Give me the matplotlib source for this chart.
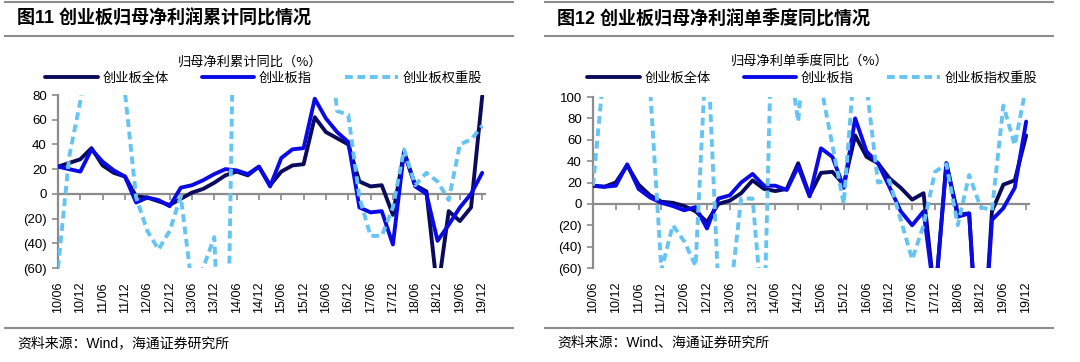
import numpy as np
import matplotlib
matplotlib.use("Agg")
import matplotlib.pyplot as plt
from matplotlib.lines import Line2D
from matplotlib.ticker import FuncFormatter

plt.rcParams['font.family'] = ['Liberation Sans', 'Noto Sans CJK SC', 'DejaVu Sans']

# quarters 10/06 .. 19/12, labels every half year
quarters = list(range(39))
tick_pos = list(range(0, 39, 2))
tick_labels = [f"{y:02d}/{m}" for y in range(10, 20) for m in ("06", "12")]

# 图11 累计同比 (%)
cum_total = [22, 25, 28, 37, 23, 17, 14, -2, -3, -6, -9, -4, 1, 4, 9, 15, 18, 15, 22, 7,
             18, 23, 24, 62, 50, 45, 40, 10, 6, 7, -17, 34, 7, 2, -80, -14, -22, -11, 79]
cum_index = [22, 20, 18, 36, 26, 19, 14, -7, -3, -5, -10, 5, 7, 11, 16, 20, 19, 16, 22, 6,
             29, 36, 37, 77, 61, 50, 42, -11, -15, -14, -41, 34, 6, 0, -38, -25, -11, 0, 17]
cum_weight = [-60, 30, 75, 150, 160, 150, 82, -3, -30, -45, -30, -2, -75, -60, -35, -250, 300,
              250, 200, 180, 200, 220, 180, 200, 150, 67, 64, -3, -34, -34, -11, 36, 7, 17,
              10, -5, 40, 44, 55]

# 图12 单季度同比 (%)
q_total = [17, 16, 20, 36, 18, 8, 2, 1, -2, -7, -17, 0, 3, 10, 22, 14, 12, 14, 38, 8,
           29, 30, 18, 64, 44, 38, 24, 15, 4, 10, -90, 38, -10, -9, -180, -7, 18, 22, 64]
q_index = [17, 16, 17, 37, 14, 6, 1, -2, -6, -3, -23, 5, 8, 20, 28, 17, 17, 13, 35, 7,
           52, 44, 15, 80, 49, 38, 16, -7, -20, -7, -90, 38, -12, -9, -180, -15, -4, 15, 77]
q_weight = [17, 130, 200, 180, 150, 110, -62, -20, -35, -58, 160, -80, -90, 5, 5, -120, 300,
            150, 77, 200, 110, 55, 0, 140, 110, 20, 22, -15, -52, -20, 30, 37, -20, 27, -3,
            -6, 92, 55, 110]

navy = '#0B0B5E'
blue = '#0A0AE6'
light = '#66C4F2'
gray = '#8C8C8C'

W, H = 1080, 362
fig = plt.figure(figsize=(W / 100, H / 100), dpi=100)


def fx(px):
    return px / W


def fy(py):
    return 1 - py / H


def paren(v, pos):
    return f"({abs(v):.0f})" if v < 0 else f"{v:.0f}"


def panel(x0, x1, y_top, ylim, ystep, series, legend_names, title, source, ox):
    ax = fig.add_axes([fx(x0), fy(268), fx(x1 - x0), (268 - y_top) / H])
    for vals, c, ls, nm in zip(series, [navy, blue, light], ['-', '-', '--'], legend_names):
        kw = dict(dashes=(2.0, 1.2)) if ls == '--' else {}
        ax.plot(quarters, vals, color=c, lw=2.8, ls=ls, label=nm, zorder=3,
                solid_capstyle='round', solid_joinstyle='round', **kw)
    ax.set_xlim(0, 38.25)
    ax.set_ylim(*ylim)
    ax.set_yticks(np.arange(ylim[0], ylim[1] + 1, ystep))
    ax.yaxis.set_major_formatter(FuncFormatter(paren))
    for s in ['top', 'right']:
        ax.spines[s].set_visible(False)
    ax.spines['left'].set_color(gray)
    ax.spines['left'].set_linewidth(1.6)
    ax.spines['bottom'].set_position(('data', 0))
    ax.spines['bottom'].set_color(gray)
    ax.spines['bottom'].set_linewidth(1.6)
    ax.set_xticks(tick_pos)
    ax.tick_params(axis='x', length=4, width=1.2, color=gray, labelbottom=False)
    ax.tick_params(axis='y', length=4, width=1.2, color=gray, labelsize=9.5, pad=4)
    sec = ax.secondary_xaxis('bottom')
    sec.set_xticks(tick_pos, tick_labels, rotation=90, fontsize=9)
    sec.tick_params(length=0, pad=10)
    sec.spines['bottom'].set_visible(False)
    ax.patch.set_alpha(0)

    # header / footer
    fig.text(fx(ox + 17), fy(18), title, fontsize=13, fontweight='bold', va='center',
             family=['Liberation Sans', 'Noto Sans CJK SC'])
    for yy in (2, 36, 328):
        fig.add_artist(Line2D([fx(ox + 5), fx(ox + 513)], [fy(yy), fy(yy)], color=gray, lw=1.5))
    fig.text(fx(ox + 17), fy(343), source, fontsize=10, va='center',
             family=['Liberation Sans', 'Noto Sans CJK SC'])
    return ax


axl = panel(58, 485, 95, (-60, 80), 20, [cum_total, cum_index, cum_weight],
            ['创业板全体', '创业板指', '创业板权重股'],
            '图11 创业板归母净利润累计同比情况',
            '资料来源：Wind，海通证券研究所', 0)
axr = panel(593, 1029, 97, (-60, 100), 20, [q_total, q_index, q_weight],
            ['创业板全体', '创业板指', '创业板指权重股'],
            '图12 创业板归母净利润单季度同比情况',
            '资料来源：Wind、海通证券研究所', 540)

fig.text(fx(250), fy(62), '归母净利累计同比（%）', fontsize=9.5, ha='center', va='center',
         family=['Noto Sans CJK SC'])
fig.text(fx(810), fy(62), '归母净利单季度同比（%）', fontsize=9.5, ha='center', va='center',
         family=['Noto Sans CJK SC'])

for ax, x_leg in [(axl, 45), (axr, 587)]:
    h, l = ax.get_legend_handles_labels()
    fig.legend(h, l, loc='center left', bbox_to_anchor=(fx(x_leg), fy(78)), ncol=3,
               frameon=False, borderpad=0, borderaxespad=0, handlelength=4.0,
               handletextpad=0.35, columnspacing=2.5,
               prop={'family': ['Noto Sans CJK SC'], 'size': 9.5})

fig.savefig('out.png', dpi=100)
